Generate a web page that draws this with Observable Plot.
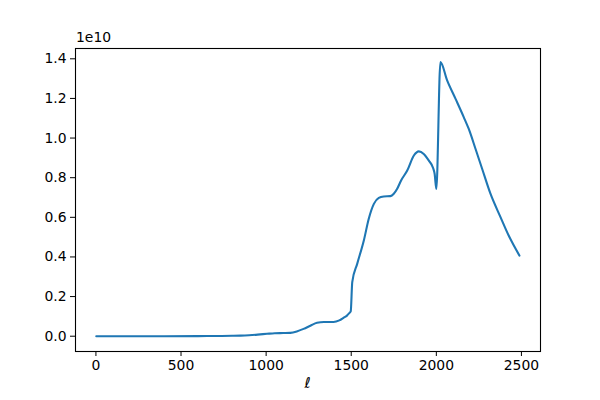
<!DOCTYPE html>
<html>
<head>
<meta charset="utf-8">
<script src="https://cdn.jsdelivr.net/npm/d3@7"></script>
<script src="https://cdn.jsdelivr.net/npm/@observablehq/plot@0.6"></script>
<style>
  html, body { margin: 0; padding: 0; background: #fff; }
  #wrap { position: relative; width: 600px; height: 400px; }
  #offset { position: absolute; left: 76px; top: 29px; font: 13.9px "DejaVu Sans", sans-serif; color: #000; }
  #xlabel { position: absolute; left: 0; width: 615px; text-align: center; top: 374px; font: italic 15px "DejaVu Serif", "DejaVu Sans", serif; color: #000; }
</style>
</head>
<body>
<div id="wrap">
  <div id="chart"></div>
  <div id="offset">1e10</div>
  <div id="xlabel">ℓ</div>
</div>
<script>
const ell = [2, 200, 400, 600, 700, 800, 850, 900, 950, 1005, 1050, 1100, 1142, 1180, 1220, 1260, 1299, 1340, 1396, 1430, 1455, 1475, 1490, 1497, 1506, 1535, 1574, 1603, 1633, 1662, 1691, 1730, 1750, 1770, 1793, 1829, 1868, 1897, 1926, 1956, 1981, 1990, 2000, 2024, 2064, 2113, 2161, 2190, 2230, 2269, 2318, 2377, 2425, 2488];
const power = [0, 0, 0, 0.005e9, 0.01e9, 0.02e9, 0.03e9, 0.05e9, 0.08e9, 0.12e9, 0.15e9, 0.16e9, 0.17e9, 0.24e9, 0.37e9, 0.53e9, 0.68e9, 0.72e9, 0.72e9, 0.80e9, 0.93e9, 1.04e9, 1.18e9, 1.25e9, 2.73e9, 3.65e9, 4.83e9, 5.93e9, 6.68e9, 6.98e9, 7.05e9, 7.07e9, 7.19e9, 7.44e9, 7.86e9, 8.36e9, 9.12e9, 9.33e9, 9.20e9, 8.86e9, 8.49e9, 8.2e9, 7.43e9, 13.83e9, 12.90e9, 11.98e9, 11.06e9, 10.47e9, 9.46e9, 8.45e9, 7.19e9, 6.01e9, 5.08e9, 4.07e9];
const xTicks = [0, 500, 1000, 1500, 2000, 2500];
const yTicks = [0, 0.2e10, 0.4e10, 0.6e10, 0.8e10, 1.0e10, 1.2e10, 1.4e10];

const data = ell.map((l, i) => ({ell: l, v: power[i]}));

const chart = Plot.plot({
  width: 600,
  height: 400,
  marginLeft: 75,
  marginRight: 60,
  marginTop: 48,
  marginBottom: 49,
  style: { fontFamily: "DejaVu Sans, sans-serif", fontSize: "13.9px", color: "#000", background: "#fff" },
  x: { domain: [-120, 2612], ticks: xTicks, tickSize: 5, tickPadding: 4, label: null, tickFormat: d => String(d) },
  y: { domain: [-0.0772e10, 1.452e10], ticks: yTicks, tickSize: 5, tickPadding: 4, label: null, tickFormat: d => (d / 1e10).toFixed(1) },
  marks: [
    Plot.line(data, { x: "ell", y: "v", stroke: "#1f77b4", strokeWidth: 2.1, curve: "monotone-x" }),
    Plot.frame({ stroke: "#000", strokeWidth: 1.1 })
  ]
});
document.getElementById("chart").appendChild(chart);
</script>
</body>
</html>
